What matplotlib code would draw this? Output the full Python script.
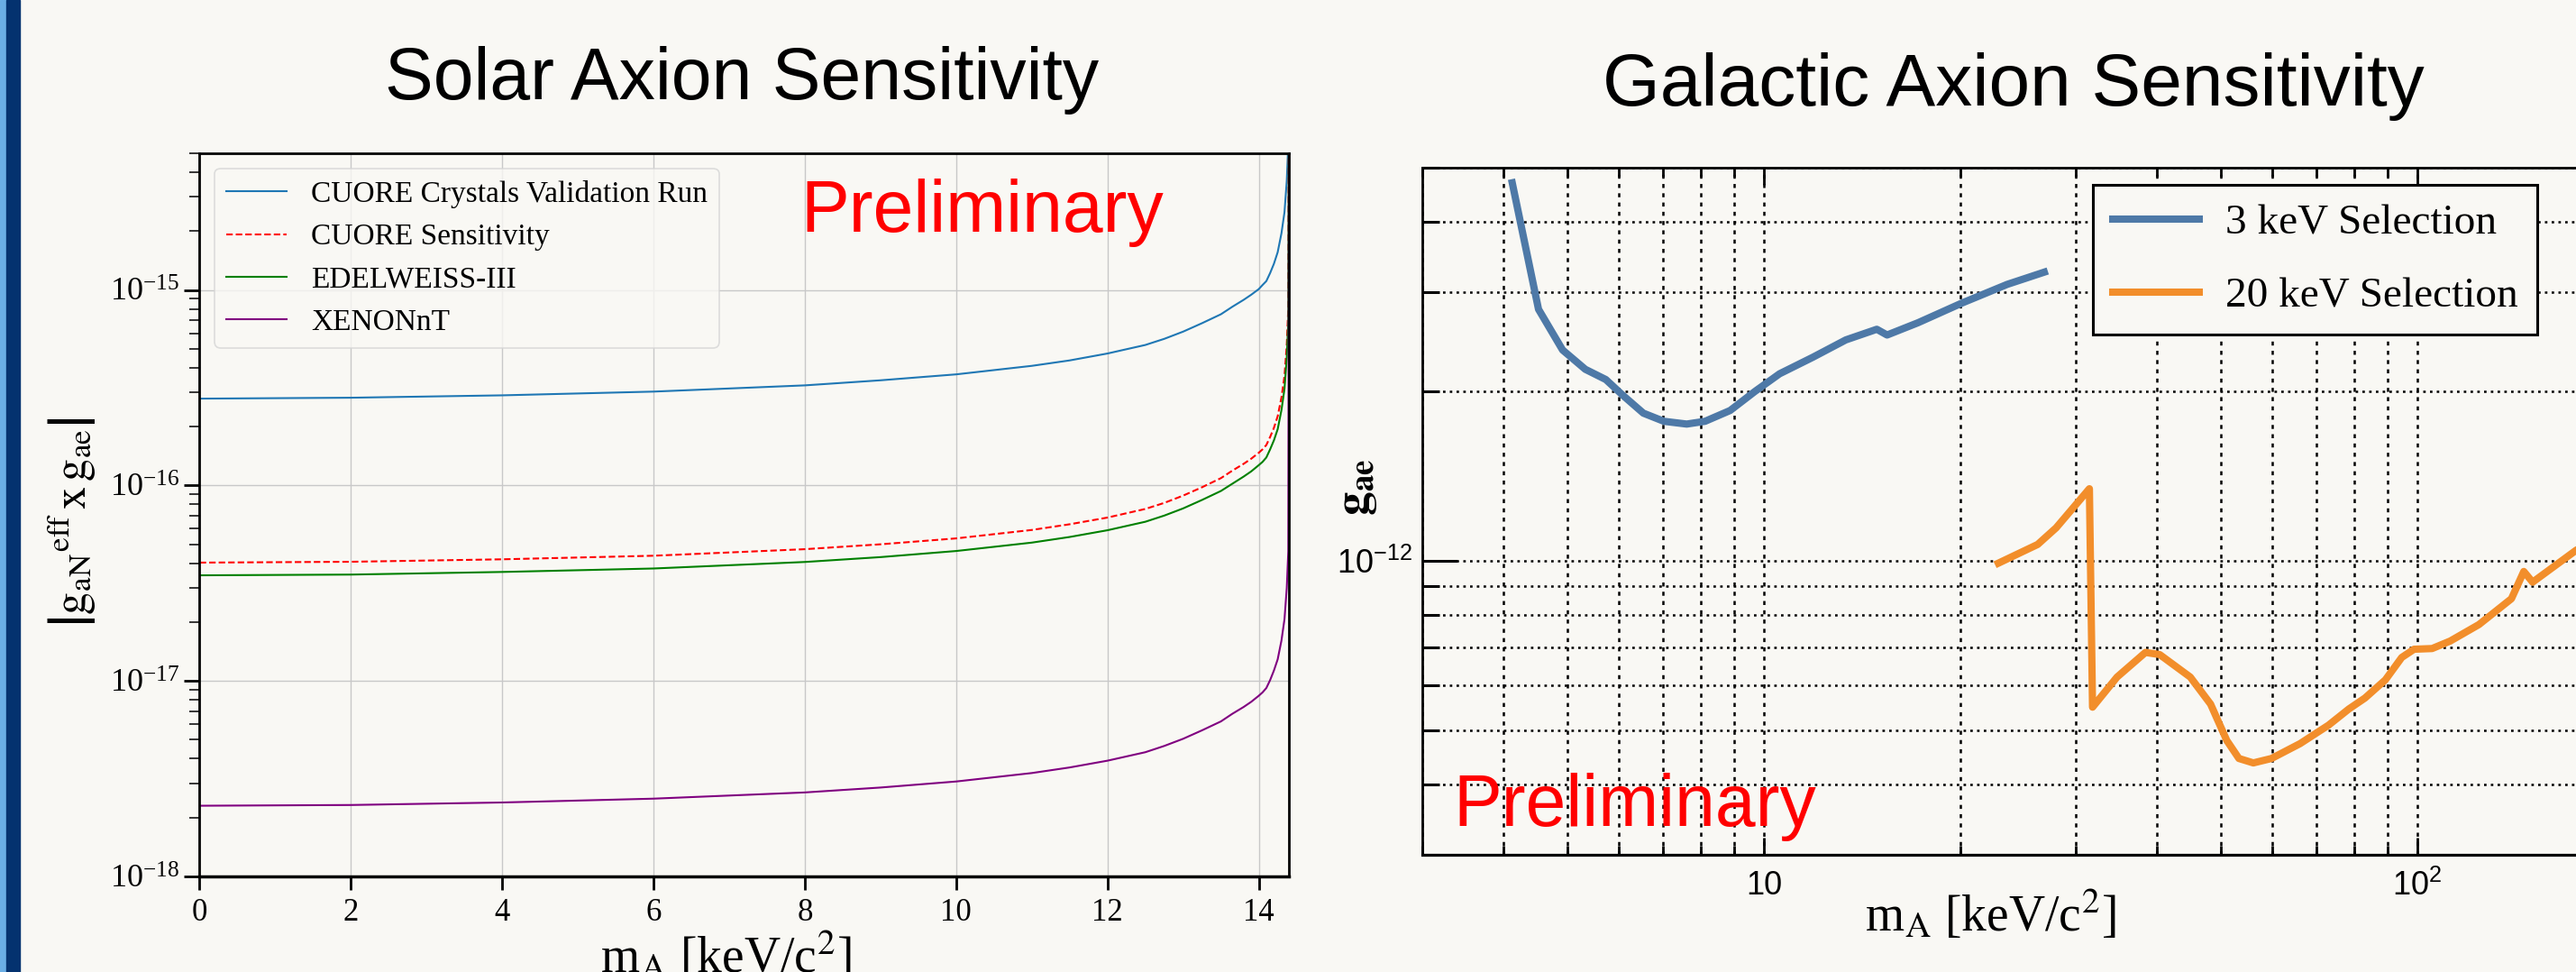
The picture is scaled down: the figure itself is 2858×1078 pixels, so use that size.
import matplotlib
matplotlib.use("Agg")
import matplotlib.pyplot as plt
from matplotlib.patches import Rectangle
from matplotlib.ticker import (FixedLocator, FixedFormatter, LogLocator,
                               NullFormatter, MultipleLocator)

# --- solar axion curves (m_A in keV, |g_aN^eff x g_ae|) ---
mass_solar = [0, 2, 4, 6, 8, 9, 10, 11, 11.5, 12, 12.5, 12.75, 13, 13.25,
              13.5, 13.65, 13.8, 13.9, 14.0, 14.05, 14.1, 14.15, 14.2, 14.25,
              14.3, 14.34, 14.37, 14.39, 14.4]
cuore_vr = [2.78e-16, 2.81e-16, 2.89e-16, 3.02e-16, 3.25e-16, 3.45e-16,
            3.70e-16, 4.09e-16, 4.36e-16, 4.73e-16, 5.23e-16, 5.62e-16,
            6.12e-16, 6.76e-16, 7.51e-16, 8.20e-16, 8.90e-16, 9.45e-16,
            1.01e-15, 1.06e-15, 1.11e-15, 1.22e-15, 1.36e-15, 1.56e-15,
            1.95e-15, 2.50e-15, 3.61e-15, 5.56e-15, 1e-13]
cuore_sens = [4.03e-17, 4.07e-17, 4.19e-17, 4.37e-17, 4.72e-17, 5.00e-17,
              5.36e-17, 5.92e-17, 6.33e-17, 6.85e-17, 7.58e-17, 8.14e-17,
              8.87e-17, 9.79e-17, 1.09e-16, 1.19e-16, 1.29e-16, 1.37e-16,
              1.47e-16, 1.53e-16, 1.61e-16, 1.77e-16, 1.97e-16, 2.26e-16,
              2.82e-16, 3.63e-16, 5.24e-16, 8.06e-16, 2e-14]
edelweiss = [3.47e-17, 3.50e-17, 3.61e-17, 3.76e-17, 4.06e-17, 4.30e-17,
             4.62e-17, 5.10e-17, 5.45e-17, 5.90e-17, 6.52e-17, 7.01e-17,
             7.63e-17, 8.43e-17, 9.37e-17, 1.02e-16, 1.11e-16, 1.18e-16,
             1.27e-16, 1.32e-16, 1.39e-16, 1.53e-16, 1.70e-16, 1.94e-16,
             2.43e-16, 3.12e-16, 4.51e-16, 6.94e-16, 2e-14]
xenon = [2.30e-18, 2.32e-18, 2.39e-18, 2.50e-18, 2.69e-18, 2.85e-18,
         3.06e-18, 3.38e-18, 3.61e-18, 3.91e-18, 4.32e-18, 4.65e-18,
         5.06e-18, 5.59e-18, 6.21e-18, 6.79e-18, 7.36e-18, 7.82e-18,
         8.40e-18, 8.74e-18, 9.20e-18, 1.01e-17, 1.13e-17, 1.29e-17,
         1.61e-17, 2.07e-17, 2.99e-17, 4.60e-17, 2e-14]
solar_labels = ["CUORE Crystals Validation Run", "CUORE Sensitivity",
                "EDELWEISS-III", "XENONnT"]

# --- galactic axion curves (m_A in keV, g_ae) ---
mass_3kev = [4.12, 4.52, 4.92, 5.33, 5.73, 6.08, 6.54, 7.03, 7.62, 8.13,
             8.88, 9.69, 10.57, 11.88, 13.35, 14.89, 15.44, 17.22, 20.07,
             23.57, 26.87]
gae_3kev = [4.70e-12, 2.80e-12, 2.37e-12, 2.19e-12, 2.10e-12, 1.97e-12,
            1.83e-12, 1.77e-12, 1.75e-12, 1.77e-12, 1.85e-12, 2.00e-12,
            2.15e-12, 2.30e-12, 2.47e-12, 2.58e-12, 2.52e-12, 2.65e-12,
            2.87e-12, 3.10e-12, 3.26e-12]
mass_20kev = [22.85, 26.25, 28.01, 31.5, 31.85, 34.72, 38.38, 40.35, 44.95,
              48.28, 51.12, 53.35, 56.13, 59.84, 66.2, 73.16, 78.6, 83.2,
              89.4, 94.7, 98.9, 105.4, 112.4, 124.3, 139.4, 145.6, 150.2,
              174.9, 195.0]
gae_20kev = [0.990e-12, 1.069e-12, 1.144e-12, 1.343e-12, 0.549e-12,
             0.621e-12, 0.687e-12, 0.681e-12, 0.621e-12, 0.556e-12,
             0.479e-12, 0.445e-12, 0.437e-12, 0.445e-12, 0.473e-12,
             0.510e-12, 0.545e-12, 0.570e-12, 0.614e-12, 0.673e-12,
             0.696e-12, 0.698e-12, 0.720e-12, 0.770e-12, 0.856e-12,
             0.957e-12, 0.916e-12, 1.043e-12, 1.12e-12]
galactic_labels = ["3 keV Selection", "20 keV Selection"]

BG = "#F9F8F4"
SANS = ["Liberation Sans", "DejaVu Sans"]
SERIF = ["Liberation Serif", "DejaVu Serif"]

plt.rcParams["font.family"] = SERIF
plt.rcParams["mathtext.fontset"] = "stix"
plt.rcParams["lines.scale_dashes"] = False

fig = plt.figure(figsize=(28.58, 10.78), dpi=100, facecolor=BG)

# slide edge stripes
fig.add_artist(Rectangle((0, 0), 7 / 2858, 1, transform=fig.transFigure,
                         color="#6AAEE5", zorder=5))
fig.add_artist(Rectangle((7 / 2858, 0), 15 / 2858, 1, transform=fig.transFigure,
                         color="#04326F", zorder=5))

fig.text(0.288, 0.898, "Solar Axion Sensitivity", family=SANS, fontsize=58,
         ha="center", va="baseline")
fig.text(0.7817, 0.8915, "Galactic Axion Sensitivity", family=SANS,
         fontsize=59, ha="center", va="baseline")

# ---------------- solar panel ----------------
ax1 = fig.add_axes([0.0775, 0.0983, 0.4229, 0.744])
ax1.set_facecolor(BG)
ax1.plot(mass_solar, cuore_vr, color="#1f77b4", lw=1.5, label=solar_labels[0])
ax1.plot(mass_solar, cuore_sens, color="red", lw=1.5,
         linestyle=(0, (5.2, 2.4)), label=solar_labels[1])
ax1.plot(mass_solar, edelweiss, color="green", lw=1.5, label=solar_labels[2])
ax1.plot(mass_solar, xenon, color="purple", lw=1.5, label=solar_labels[3])
ax1.set_yscale("log")
ax1.set_xlim(0, 14.4)
ax1.set_ylim(1e-18, 5e-15)
ax1.xaxis.set_major_locator(MultipleLocator(2))
ax1.yaxis.set_major_locator(FixedLocator([1e-18, 1e-17, 1e-16, 1e-15]))
ax1.yaxis.set_minor_formatter(NullFormatter())
ax1.grid(True, which="major", color="#c8c8c8", lw=1.0)
ax1.set_axisbelow(True)
ax1.tick_params(axis="x", which="major", direction="out", length=11,
                width=2, labelsize=25, pad=6)
ax1.tick_params(axis="y", which="major", direction="out", length=12,
                width=2, labelsize=26, pad=4)
ax1.tick_params(axis="y", which="minor", direction="out", length=8,
                width=1.1)
for side in ["left", "top", "right"]:
    ax1.spines[side].set_linewidth(2)
ax1.spines["bottom"].set_linewidth(2.5)
ax1.set_xlabel(r"m$_{\rm A}$ [keV/c$^2$]", fontsize=40)
ax1.xaxis.set_label_coords(0.4828, -0.075)
ax1.set_ylabel(r"$\left|\mathrm{g}_{\mathrm{aN}}{}^{\mathrm{eff}}\,\mathrm{x}\,"
               r"\mathrm{g}_{\mathrm{ae}}\right|$", fontsize=36)
ax1.yaxis.set_label_coords(-0.094, 0.49)
leg1 = ax1.legend(loc="upper left", fontsize=24, fancybox=True,
                  framealpha=0.8, facecolor=BG, edgecolor="#d5d5d5",
                  borderaxespad=0.5, handlelength=2.0)
leg1.get_frame().set_linewidth(1.2)
ax1.text(0.5515, 0.8915, "Preliminary", transform=ax1.transAxes,
         family=SANS, fontsize=58, color="#FF0000", ha="left", va="baseline")

# ---------------- galactic panel ----------------
ax2 = fig.add_axes([0.5521, 0.1206, 0.4626, 0.7069])
ax2.set_facecolor(BG)
ax2.plot(mass_3kev, gae_3kev, color="#4E79A7", lw=5.8,
         solid_joinstyle="round", label=galactic_labels[0])
ax2.plot(mass_20kev, gae_20kev, color="#F28E2B", lw=5.8,
         solid_joinstyle="round", label=galactic_labels[1])
ax2.set_xscale("log")
ax2.set_yscale("log")
ax2.set_xlim(3, 200)
ax2.set_ylim(3e-13, 5e-12)
ax2.xaxis.set_major_locator(FixedLocator([10, 100]))
ax2.xaxis.set_major_formatter(FixedFormatter(["10", r"$\mathdefault{10^2}$"]))
ax2.xaxis.set_minor_locator(LogLocator(base=10, subs=range(2, 10)))
ax2.xaxis.set_minor_formatter(NullFormatter())
ax2.yaxis.set_major_locator(FixedLocator([1e-12]))
ax2.yaxis.set_minor_locator(LogLocator(base=10, subs=range(2, 10)))
ax2.yaxis.set_minor_formatter(NullFormatter())
ax2.grid(True, which="both", axis="y", color="black", lw=1.8,
         linestyle=(0, (2.0, 3.4)))
ax2.grid(True, which="both", axis="x", color="black", lw=1.8,
         linestyle=(0, (3.2, 4.2)))
ax2.set_axisbelow(True)
ax2.tick_params(axis="x", which="major", direction="in", length=14,
                width=2, top=True, labelsize=26, pad=12)
ax2.tick_params(axis="x", which="minor", direction="in", length=7.5,
                width=2, top=True)
ax2.tick_params(axis="y", which="major", direction="in", length=28,
                width=2.2, right=True, labelsize=26, pad=8)
ax2.tick_params(axis="y", which="minor", direction="in", length=14,
                width=2.2, right=True)
for lbl in ax2.get_xticklabels() + ax2.get_yticklabels():
    lbl.set_family(SANS)
for side in ["left", "top", "right", "bottom"]:
    ax2.spines[side].set_linewidth(2)
ax2.spines["bottom"].set_linewidth(2.3)
ax2.set_xlabel(r"m$_{\rm A}$ [keV/c$^2$]", fontsize=40)
ax2.xaxis.set_label_coords(0.4766, -0.05)
ax2.set_ylabel(r"$\mathbf{g}_{\mathbf{ae}}$", fontsize=38)
ax2.yaxis.set_label_coords(-0.036, 0.535)
leg2 = ax2.legend(loc="upper left", bbox_to_anchor=(0.563, 0.975),
                  fontsize=34, fancybox=False, framealpha=1, facecolor=BG,
                  edgecolor="black", borderaxespad=0, handlelength=2.05,
                  handletextpad=0.6, labelspacing=0.8, borderpad=0.45)
leg2.get_frame().set_linewidth(2.2)
ax2.text(0.0257, 0.042, "Preliminary", transform=ax2.transAxes,
         family=SANS, fontsize=58, color="#FF0000", ha="left", va="baseline")

fig.savefig("out.png", dpi=100, facecolor=BG)
